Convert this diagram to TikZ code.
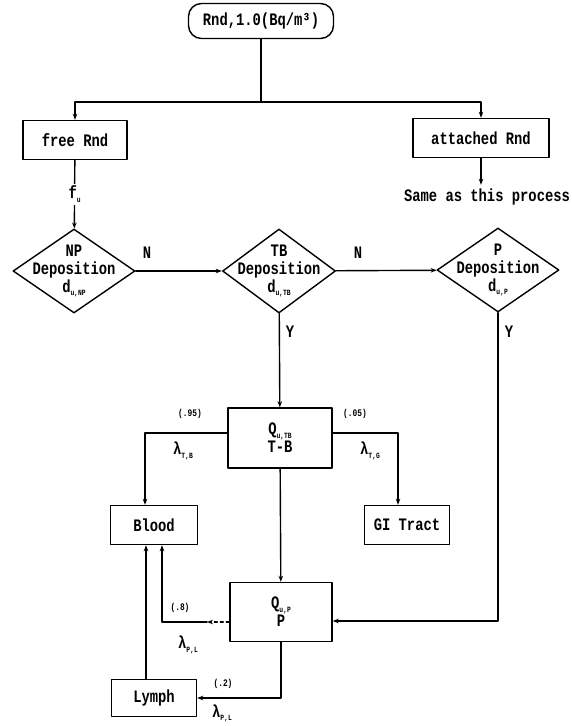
\documentclass[tikz,border=0pt]{standalone}
\usepackage{fontspec}
\newfontfamily\flowfont[FakeStretch=0.79]{Liberation Mono}
\usetikzlibrary{arrows.meta,shapes.geometric}
\newcommand{\lsub}[1]{\raisebox{-.4ex}{\fontsize{8}{8}\selectfont#1}}

\begin{document}
\begin{tikzpicture}[x=1pt,y=-1pt,line cap=round,line join=round,line width=1.4pt,
  font=\flowfont\bfseries\fontsize{17.5}{18}\selectfont,
  box/.style={draw,minimum height=39pt,inner sep=0pt},
  dia/.style={draw,diamond,minimum width=122pt,minimum height=84pt,inner sep=0pt},
  frac/.style={font=\flowfont\bfseries\fontsize{10}{10}\selectfont},
  >={Stealth[length=6pt,width=4.5pt]}]
\useasboundingbox(0,0)rectangle(571,726);
% top of the chain
\node[draw,rounded corners=13pt,minimum width=145pt,minimum height=35pt](src)at(261,21){Rnd,1.0(Bq/m³)};
\coordinate(split)at(261,102);
\node[box,minimum width=104pt](free)at(75,140){free Rnd};
\node[box,minimum width=136pt](att)at(481,138){attached Rnd};
\node(same)at(487,197){Same as this process};
\draw(src)--(split);
\draw[->](split)-|(free);
\draw[->](split)-|(att);
\draw[->](att.south)--(att.south|-same.north);
% deposition tests
\node[dia](np)at(74,271){};
\node[dia,minimum width=113pt](tb)at(279,271){};
\node[dia](pd)at(498,270){};
\node[align=center](nplab)at(np){NP\\Deposition\\d\lsub{u,NP}};
\node[align=center](tblab)at(tb){TB\\Deposition\\d\lsub{u,TB}};
\node[align=center](pdlab)at(pd){P\\Deposition\\d\lsub{u,P}};
\draw[->](free)--node[fill=white,inner sep=2pt]{f\lsub{u}}(np);
\draw[->](np)--(tb);
\draw[->](tb)--(pd);
\node(n1)at(147,253){N};
\node(n2)at(358,253){N};
\node(y1)at(290,332){Y};
\node(y2)at(509,332){Y};
% compartments
\node[box,minimum width=104pt,minimum height=60pt,align=center](tbbox)at(280,438){Q\lsub{u,TB}\\T-B};
\node[box,minimum width=87pt](blood)at(154,525){Blood};
\node[box,minimum width=85pt](gi)at(407,525){GI Tract};
\node[box,minimum width=102pt,minimum height=59pt,align=center](pbox)at(281,612){Q\lsub{u,P}\\P};
\node[box,minimum width=85pt,minimum height=37pt](lymph)at(154,698){Lymph};
\coordinate(lk)at(207,622);
\draw[->](tb)--(tbbox);
\draw[->](pd.south)|-([yshift=-9pt]pbox.east);
\draw[->]([yshift=5pt]tbbox.west)-|([xshift=-9pt]blood.north);
\draw[->]([yshift=5pt]tbbox.east)-|([xshift=-9pt]gi.north);
\draw[->](tbbox)--(pbox);
\draw[->,dashed]([yshift=-10pt]pbox.west)--(lk);
\draw[->](lk)-|([xshift=8pt]blood.south);
\draw[->]([xshift=-8pt]lymph.north)--([xshift=-8pt]blood.south);
\draw[->](pbox.south)|-(lymph.east);
% rates and fractions
\node[frac](f95)at(190,414){(.95)};
\node[frac](f05)at(355,414){(.05)};
\node[frac](f8)at(180,608){(.8)};
\node[frac](f2)at(223,684){(.2)};
\node(ltb)at(183,451){λ\lsub{T,B}};
\node(ltg)at(370,451){λ\lsub{T,G}};
\node(lpl)at(188,645){λ\lsub{P,L}};
\node[inner sep=1pt,anchor=south](lpl2)at(222,724){λ\lsub{P,L}};
\end{tikzpicture}
\end{document}
